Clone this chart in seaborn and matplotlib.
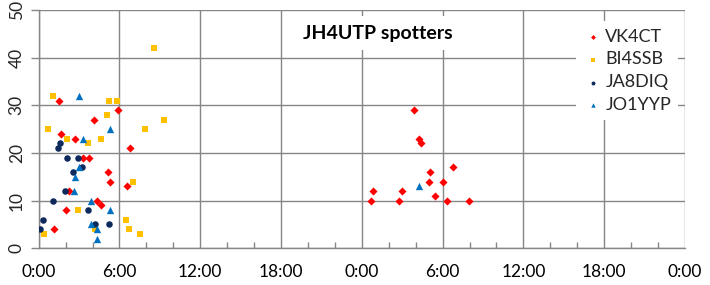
import matplotlib
matplotlib.use("Agg")
import matplotlib.pyplot as plt
import seaborn as sns
import pandas as pd
from matplotlib.ticker import MultipleLocator, FuncFormatter

# ---- data (hours since start of first day, number of spots) ----
vk4ct_hours = [1.49, 5.87, 4.11, 1.63, 2.70, 6.79, 3.27, 3.72, 5.13, 5.30, 6.54, 2.25,
               4.31, 4.63, 2.03, 1.11,
               27.9, 28.25, 28.4, 30.8, 29.07, 29.0, 30.06, 24.85, 26.99, 29.46,
               24.68, 26.77, 30.33, 31.97]
vk4ct_count = [31, 29, 27, 24, 23, 21, 19, 19, 16, 14, 13, 12,
               10, 9, 8, 4,
               29, 23, 22, 17, 16, 14, 14, 12, 12, 11,
               10, 10, 10, 10]

bi4ssb_hours = [8.6, 1.09, 5.25, 5.85, 5.10, 9.27, 0.72, 7.93, 2.13, 4.66, 3.69, 7.03,
                2.95, 6.51, 6.74, 4.19, 0.42, 7.55]
bi4ssb_count = [42, 32, 31, 31, 28, 27, 25, 25, 23, 23, 22, 14,
                8, 6, 4, 4, 3, 3]

ja8diq_hours = [1.61, 1.46, 2.13, 2.95, 3.24, 2.57, 1.98, 1.09, 3.69, 0.34, 4.21, 5.25, 0.12]
ja8diq_count = [22, 21, 19, 19, 17, 16, 12, 10, 8, 6, 5, 5, 4]

jo1yyp_hours = [3.0, 5.3, 3.29, 3.0, 2.7, 2.62, 3.87, 5.3, 3.87, 4.31, 4.33, 28.25]
jo1yyp_count = [32, 25, 23, 17, 15, 12, 10, 8, 5, 4, 2, 13]

series_names = ["VK4CT", "BI4SSB", "JA8DIQ", "JO1YYP"]
title_text = "JH4UTP spotters"

frames = []
for name, hrs, cnt in [("VK4CT", vk4ct_hours, vk4ct_count),
                       ("BI4SSB", bi4ssb_hours, bi4ssb_count),
                       ("JA8DIQ", ja8diq_hours, ja8diq_count),
                       ("JO1YYP", jo1yyp_hours, jo1yyp_count)]:
    frames.append(pd.DataFrame({"hours": hrs, "spots": cnt, "spotter": name}))
df = pd.concat(frames, ignore_index=True)

styles = {
    "VK4CT": dict(color="#FF0000", marker="D", s=17),
    "BI4SSB": dict(color="#FFC000", marker="s", s=22),
    "JA8DIQ": dict(color="#0E2A5C", marker="o", s=22),
    "JO1YYP": dict(color="#0070C0", marker="^", s=28),
}

sns.set_theme(style="white")
plt.rcParams["font.family"] = ["Lato", "DejaVu Sans"]

fig = plt.figure(figsize=(7.1, 2.85), dpi=100)
ax = fig.add_axes([38.7 / 710, 1 - 248.3 / 285, (685 - 38.7) / 710, (248.3 - 10) / 285])

for name in series_names:
    sub = df[df["spotter"] == name]
    st = styles[name]
    sns.scatterplot(data=sub, x="hours", y="spots", ax=ax, color=st["color"],
                    marker=st["marker"], s=st["s"], linewidth=0, label=name, zorder=3)

ax.set_xlim(0, 48)
ax.set_ylim(0, 50)
ax.xaxis.set_major_locator(MultipleLocator(6))
ax.xaxis.set_minor_locator(MultipleLocator(2))
ax.yaxis.set_major_locator(MultipleLocator(10))
ax.xaxis.set_major_formatter(FuncFormatter(lambda v, p: f"{int(round(v)) % 24}:00"))

grid_c = "#868686"
ax.grid(True, which="major", color=grid_c, linewidth=1.0)
for side in ["top", "right"]:
    ax.spines[side].set_visible(False)
for side in ["left", "bottom"]:
    ax.spines[side].set_visible(True)
    ax.spines[side].set_color(grid_c)
    ax.spines[side].set_linewidth(1.0)

ax.tick_params(axis="x", which="major", length=0, pad=11, labelsize=12.5, colors="black")
ax.tick_params(axis="x", which="minor", direction="in", length=4, width=1, color=grid_c, bottom=True)
ax.tick_params(axis="y", which="major", direction="out", length=6, width=1, color=grid_c,
               left=True, pad=4, labelsize=12.5, labelrotation=90)
for lab in ax.get_yticklabels():
    lab.set_va("center")
ax.set_xlabel("")
ax.set_ylabel("")

ax.text(0.525, 0.903, title_text, transform=ax.transAxes, ha="center", va="center",
        fontsize=14, fontweight="bold", color="black", zorder=4,
        bbox=dict(facecolor="white", edgecolor="none", pad=6))

leg = ax.legend(loc="upper left", bbox_to_anchor=(0.818, 0.99), frameon=True,
                fontsize=13, markerscale=0.6, handletextpad=0.2, handlelength=1.0,
                labelspacing=0.38, borderpad=0.4, fancybox=False)
leg.get_frame().set_facecolor("white")
leg.get_frame().set_edgecolor("none")
leg.get_frame().set_alpha(1.0)
leg.set_zorder(5)

fig.savefig("out.png", dpi=100)
